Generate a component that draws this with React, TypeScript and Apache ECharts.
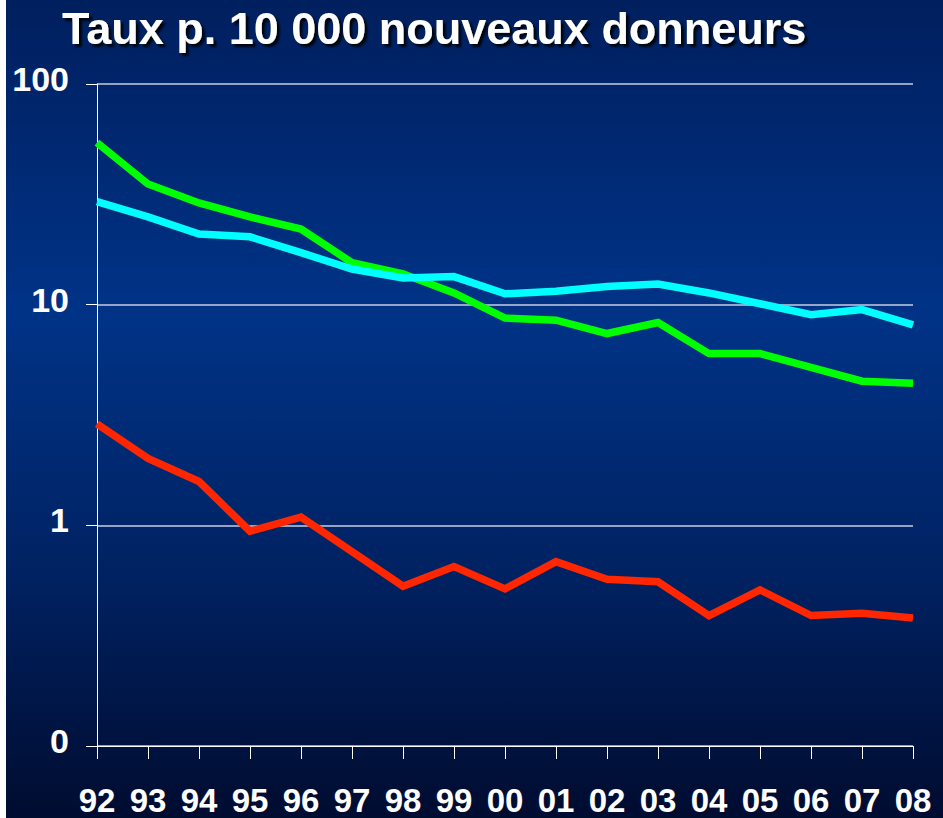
import React, { useEffect, useRef } from "react";
import * as echarts from "echarts";

const categories = ["92", "93", "94", "95", "96", "97", "98", "99", "00", "01", "02", "03", "04", "05", "06", "07", "08"];
const greenSeries = [54.2, 35.2, 28.9, 25.0, 22.0, 15.5, 13.8, 11.3, 8.7, 8.5, 7.4, 8.3, 6.0, 6.0, 5.2, 4.5, 4.4];
const cyanSeries = [29.3, 25.0, 20.9, 20.3, 17.2, 14.5, 13.2, 13.4, 11.2, 11.5, 12.1, 12.4, 11.3, 10.1, 9.0, 9.5, 8.1];
const redSeries = [2.88, 2.01, 1.58, 0.94, 1.09, 0.76, 0.53, 0.65, 0.515, 0.685, 0.57, 0.555, 0.39, 0.51, 0.39, 0.4, 0.38];
const yTickLabels: Record<string, string> = { "0.1": "0", "1": "1", "10": "10", "100": "100" };
const title = "Taux p. 10 000 nouveaux donneurs";

const FONT = "'Liberation Sans', Arial, Helvetica, sans-serif";

export default function App() {
  const ref = useRef<HTMLDivElement>(null);
  useEffect(() => {
    if (!ref.current) return;
    const chart = echarts.init(ref.current, null, { renderer: "svg" });
    const lineSeries = (name: string, data: number[], color: string) => ({
      name,
      type: "line",
      data,
      symbol: "none",
      lineStyle: { color, width: 7.5, join: "miter" },
      itemStyle: { color },
    });
    chart.setOption({
      animation: false,
      backgroundColor: {
        type: "linear",
        x: 0,
        y: 0,
        x2: 0,
        y2: 1,
        colorStops: [
          { offset: 0, color: "#001f5e" },
          { offset: 0.38, color: "#003387" },
          { offset: 0.7, color: "#002262" },
          { offset: 1, color: "#000c30" },
        ],
      },
      title: {
        text: title,
        left: 51,
        top: 1,
        textStyle: {
          color: "#ffffff",
          fontFamily: FONT,
          fontWeight: "bold",
          fontSize: 45,
          lineHeight: 45,
          textShadowColor: "rgba(0,0,0,0.85)",
          textShadowOffsetX: 3,
          textShadowOffsetY: 3,
          textShadowBlur: 2,
        },
      },
      grid: { left: 91, right: 30, top: 84, bottom: 72, containLabel: false },
      xAxis: {
        type: "category",
        data: categories,
        boundaryGap: false,
        axisLine: { show: true, lineStyle: { color: "#ffffff", width: 1 } },
        axisTick: { show: true, length: 13, alignWithLabel: true, lineStyle: { color: "#ffffff", width: 1 } },
        axisLabel: {
          color: "#ffffff",
          fontFamily: FONT,
          fontWeight: "bold",
          fontSize: 33,
          lineHeight: 33,
          margin: 38,
          interval: 0,
        },
        splitLine: { show: false },
      },
      yAxis: {
        type: "log",
        logBase: 10,
        min: 0.1,
        max: 100,
        axisLine: { show: true, lineStyle: { color: "#ffffff", width: 1 } },
        axisTick: { show: true, length: 11, lineStyle: { color: "#ffffff", width: 1 } },
        axisLabel: {
          color: "#ffffff",
          fontFamily: FONT,
          fontWeight: "bold",
          fontSize: 34,
          lineHeight: 10,
          verticalAlign: "bottom",
          margin: 28,
          formatter: (v: number) => {
            const key = String(Math.round(v * 10) / 10);
            return yTickLabels[key] ?? key;
          },
        },
        splitLine: { show: true, lineStyle: { color: "#c8cde0", width: 1.5 } },
      },
      series: [
        lineSeries("Vert", greenSeries, "#00ff00"),
        lineSeries("Cyan", cyanSeries, "#00ffff"),
        lineSeries("Rouge", redSeries, "#ff2600"),
      ],
    });
    return () => chart.dispose();
  }, []);
  return (
    <div
      ref={ref}
      style={{ position: "absolute", left: 6, top: 0, width: 937, height: 818 }}
    />
  );
}
